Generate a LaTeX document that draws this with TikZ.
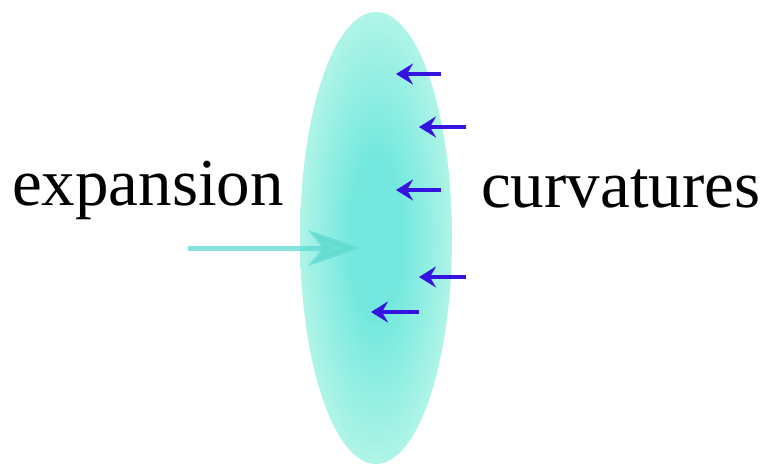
\documentclass[tikz,border=0pt]{standalone}
\usepackage{fontspec}
\setmainfont{Liberation Serif}
\usetikzlibrary{arrows.meta}

\begin{document}
\begin{tikzpicture}[x=1pt,y=-1pt,>=Stealth]
\definecolor{lensout}{RGB}{182,246,232}
\definecolor{lensin}{RGB}{116,232,222}
\definecolor{flow}{RGB}{96,218,208}
\definecolor{curv}{RGB}{52,20,222}
\pgfdeclareradialshading{lensshade}{\pgfpoint{0bp}{0bp}}{%
  color(0bp)=(lensin); color(9bp)=(lensin);
  color(27bp)=(lensout); color(50bp)=(lensout)}
\tikzset{
  label/.style={font=\fontsize{67}{70}\selectfont,anchor=base west,inner sep=0pt},
  curvarrow/.style={curv,line width=3.5pt,
    arrows={-Stealth[length=17pt,width=21pt,inset=6pt]}},
  flowarrow/.style={flow,opacity=0.75,line width=5pt,
    arrows={-Stealth[length=52pt,width=36pt,inset=15pt]}}
}
\useasboundingbox (0,0) rectangle (767,466);

% Shaded lens, darker towards the middle.
\shade[shading=lensshade]
  (376,238) ellipse [x radius=76,y radius=226];

% Labels on either side of the lens.
\node[label] (expansion) at (12,205) {expansion};
\node[label] (curvatures) at (481,207) {curvatures};

% Incoming expansion arrow.
\coordinate (flowstart) at (188,248);
\coordinate (flowend) at (360,248);
\draw[flowarrow] (flowstart) -- (flowend);

% Curvature arrows pointing into the lens.
\foreach \name/\tail/\head/\y in {a/441/396/74,b/466/419/127,c/441/396/190,
                                 d/466/419/277,e/419/371/312}{
  \coordinate (\name tail) at (\tail,\y);
  \coordinate (\name head) at (\head,\y);
  \draw[curvarrow] (\name tail) -- (\name head);
}

\end{tikzpicture}
\end{document}
